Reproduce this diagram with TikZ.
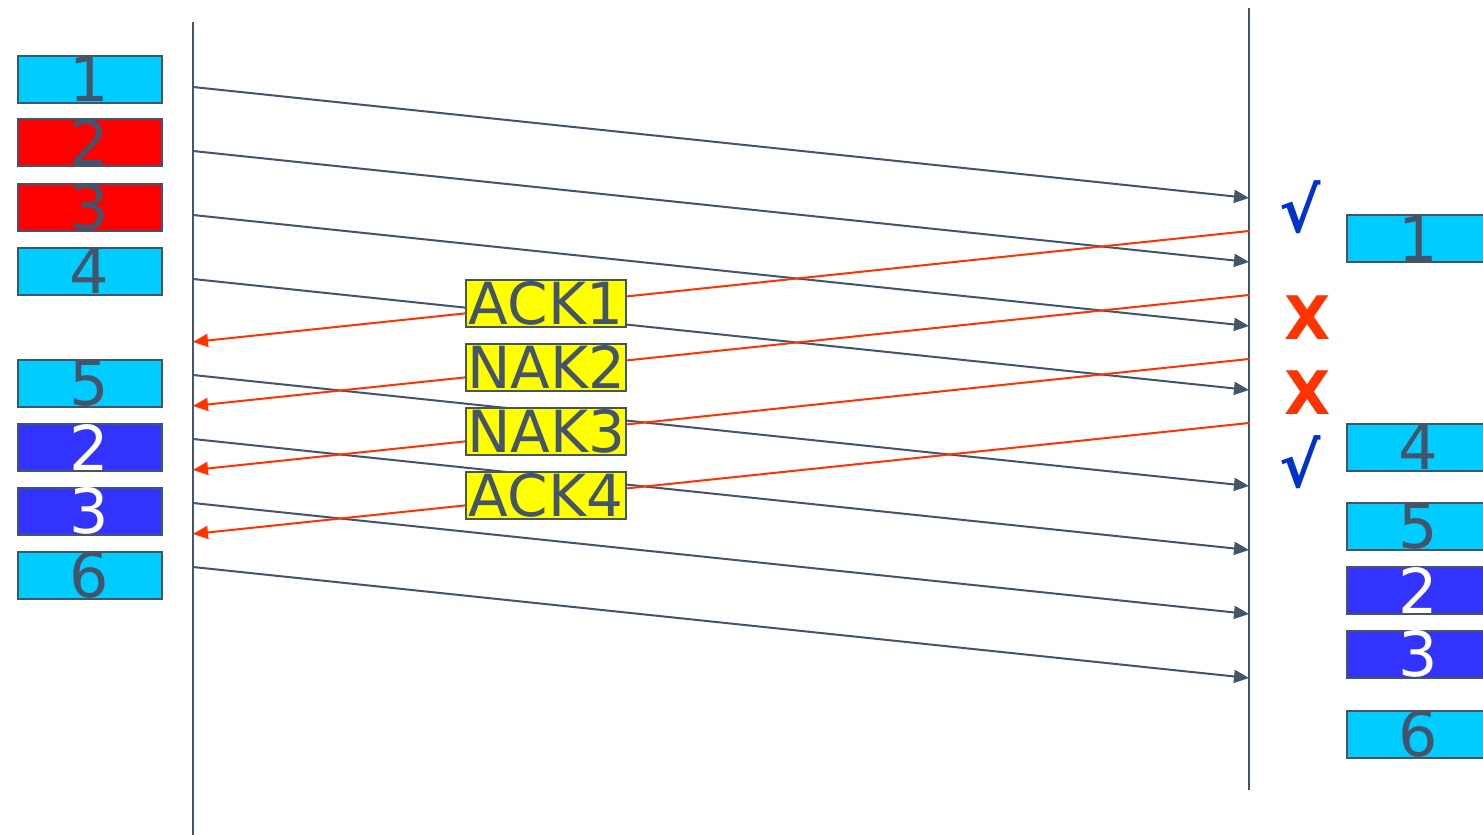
\documentclass[tikz,border=0pt]{standalone}
\usepackage{fontspec}
\setmainfont{DejaVu Sans}
\usetikzlibrary{arrows.meta}
\definecolor{cyanbox}{HTML}{00CCFF}
\definecolor{redbox}{HTML}{FF0000}
\definecolor{bluebox}{HTML}{3333FF}
\definecolor{edge}{HTML}{44546A}
\definecolor{yel}{HTML}{FFFF00}
\definecolor{redarrow}{HTML}{FF3300}
\definecolor{checkblue}{HTML}{0033CC}
\tikzset{
  pkt/.style={draw=edge, line width=2pt, minimum width=144pt, minimum height=47pt, inner sep=0pt, font=\fontsize{62}{62}\selectfont, text=edge},
  cy/.style={pkt, fill=cyanbox},
  rd/.style={pkt, fill=redbox},
  bl/.style={pkt, fill=bluebox, text=white},
  ackbox/.style={draw=edge, line width=2pt, fill=yel, minimum width=160pt, minimum height=47pt, inner sep=0pt, text=edge, font=\fontsize{58}{58}\selectfont},
  fwd/.style={draw=edge, line width=2pt, -{Triangle[length=15pt,width=13pt]}},
  back/.style={draw=redarrow, line width=2pt, -{Triangle[length=15pt,width=13pt]}},
  tline/.style={draw=edge, line width=2pt},
  chk/.style={text=checkblue, font=\bfseries\fontsize{62}{62}\selectfont},
  xmark/.style={text=redarrow, font=\bfseries\fontsize{60}{60}\selectfont},
  dig/.style={font=\fontsize{62}{62}\selectfont},
}
\begin{document}
\begin{tikzpicture}[x=1pt,y=-1pt]
\clip (0,0) rectangle (1483,835);
\fill[white] (0,0) rectangle (1483,835);
% time lines
\coordinate (LT) at (193,22); \coordinate (LB) at (193,835);
\coordinate (RT) at (1249,8); \coordinate (RB) at (1249,790);
\draw[tline] (LT) -- (LB);
\draw[tline] (RT) -- (RB);
% sender packets
\node[cy] (s1) at (89.5,79) {1};
\node[rd] (s2) at (89.5,142.5) {2};
\node[rd] (s3) at (89.5,207) {3};
\node[cy] (s4) at (89.5,271) {4};
\node[cy] (s5) at (89.5,383) {5};
\node[bl] (s6) at (89.5,447) {2};
\node[bl] (s7) at (89.5,511) {3};
\node[cy] (s8) at (89.5,575) {6};
% receiver packets
\node[cy, anchor=west] (r1) at (1346,238.5) {};
\node[dig, text=edge] at (1418,238.5) {1};
\node[cy, anchor=west] (r4) at (1346,447) {};
\node[dig, text=edge] at (1418,447) {4};
\node[cy, anchor=west] (r5) at (1346,526) {};
\node[dig, text=edge] at (1418,526) {5};
\node[bl, anchor=west] (r2) at (1346,590) {};
\node[dig, text=white] at (1418,590) {2};
\node[bl, anchor=west] (r3) at (1346,654) {};
\node[dig, text=white] at (1418,654) {3};
\node[cy, anchor=west] (r6) at (1346,734) {};
\node[dig, text=edge] at (1418,734) {6};
% forward coordinates
\foreach \i/\ys/\ye in {1/87/198,2/151/262,3/215/326,4/279/390,5/375/486,6/439/550,7/503/614,8/567/678}{
  \coordinate (fa\i) at (193,\ys);
  \coordinate (fb\i) at (1249,\ye);
}
\foreach \i in {1,...,8}{ \draw[fwd] (fa\i) -- (fb\i); }
% backward
\foreach \i/\ys/\ye in {1/231/342,2/295/406,3/359/470,4/423/534}{
  \coordinate (ba\i) at (1249,\ys);
  \coordinate (bb\i) at (193,\ye);
}
\foreach \i in {1,...,4}{ \draw[back] (ba\i) -- (bb\i); }
% ack boxes
\node[ackbox] (a1) at (546,303) {ACK1};
\node[ackbox] (a2) at (546,367) {NAK2};
\node[ackbox] (a3) at (546,431) {NAK3};
\node[ackbox] (a4) at (546,495) {ACK4};
% marks
\node[chk] (c1) at (1300,207) {√};
\node[chk] (c2) at (1300,462) {√};
\node[xmark] (x1) at (1308,318) {X};
\node[xmark] (x2) at (1308,393) {X};
\end{tikzpicture}
\end{document}
